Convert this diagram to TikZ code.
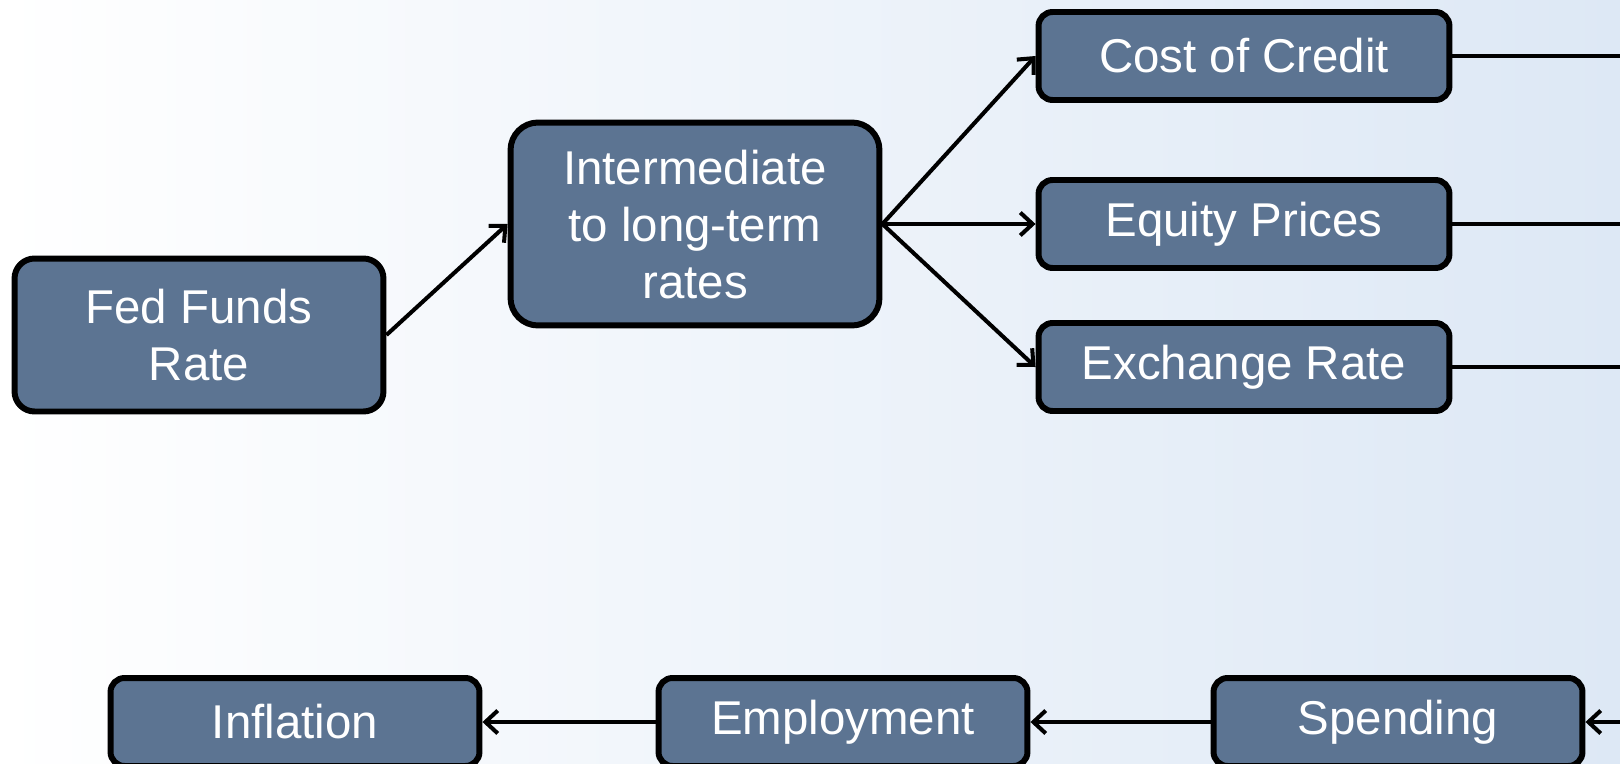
\documentclass[tikz,border=0pt]{standalone}
\usepackage{fontspec}
\setmainfont{Liberation Sans}
\usetikzlibrary{arrows.meta}

\definecolor{boxblue}{RGB}{92,116,146}
\definecolor{bgblue}{RGB}{221,232,245}

\begin{document}
\begin{tikzpicture}[x=0.02cm,y=-0.02cm,
  box/.style={draw=black,line width=3.4pt,fill=boxblue,text=white,
    rounded corners=0.4cm,align=center,inner sep=0pt,
    font=\fontsize{27}{32.5}\selectfont},
  link/.style={line width=2.3pt,-{Straight Barb[length=7pt,width=13pt,line width=2.3pt]}},
  plain/.style={line width=2.3pt}]
\path[use as bounding box] (0,0) rectangle (1620,764);
\clip (0,0) rectangle (1620,764);
\shade[left color=white,right color=bgblue] (0,0) rectangle (1620,764);

\node[box,minimum width=7.38cm,minimum height=3.06cm] (fed) at (199,335) {Fed Funds\\Rate};
\node[box,minimum width=7.38cm,minimum height=4.06cm,rounded corners=0.55cm,text depth=-0.2cm] (mid) at (695,224) {Intermediate\\to long-term\\rates};
\node[box,minimum width=8.22cm,minimum height=1.76cm,rounded corners=0.28cm] (credit) at (1244,56) {Cost of Credit};
\node[box,minimum width=8.22cm,minimum height=1.76cm,rounded corners=0.28cm] (equity) at (1244,224) {Equity Prices};
\node[box,minimum width=8.22cm,minimum height=1.76cm,rounded corners=0.28cm] (fx) at (1244,367) {Exchange Rate};
\node[box,minimum width=7.38cm,minimum height=1.76cm,rounded corners=0.28cm] (infl) at (295,722) {Inflation};
\node[box,minimum width=7.38cm,minimum height=1.76cm,rounded corners=0.28cm] (emp) at (843,722) {Employment};
\node[box,minimum width=7.38cm,minimum height=1.76cm,rounded corners=0.28cm] (spend) at (1398,722) {Spending};

\coordinate (creditOut) at (1630,56);
\coordinate (equityOut) at (1630,224);
\coordinate (fxOut) at (1630,367);
\coordinate (spendIn) at (1630,722);

\draw[link] (fed.east) -- (mid.west);
\draw[link] (mid.east) -- (credit.west);
\draw[link] (mid.east) -- (equity.west);
\draw[link] (mid.east) -- (fx.west);
\draw[plain] (credit.east) -- (creditOut);
\draw[plain] (equity.east) -- (equityOut);
\draw[plain] (fx.east) -- (fxOut);
\draw[link] (spendIn) -- (spend.east);
\draw[link] (spend.west) -- (emp.east);
\draw[link] (emp.west) -- (infl.east);
\end{tikzpicture}
\end{document}
